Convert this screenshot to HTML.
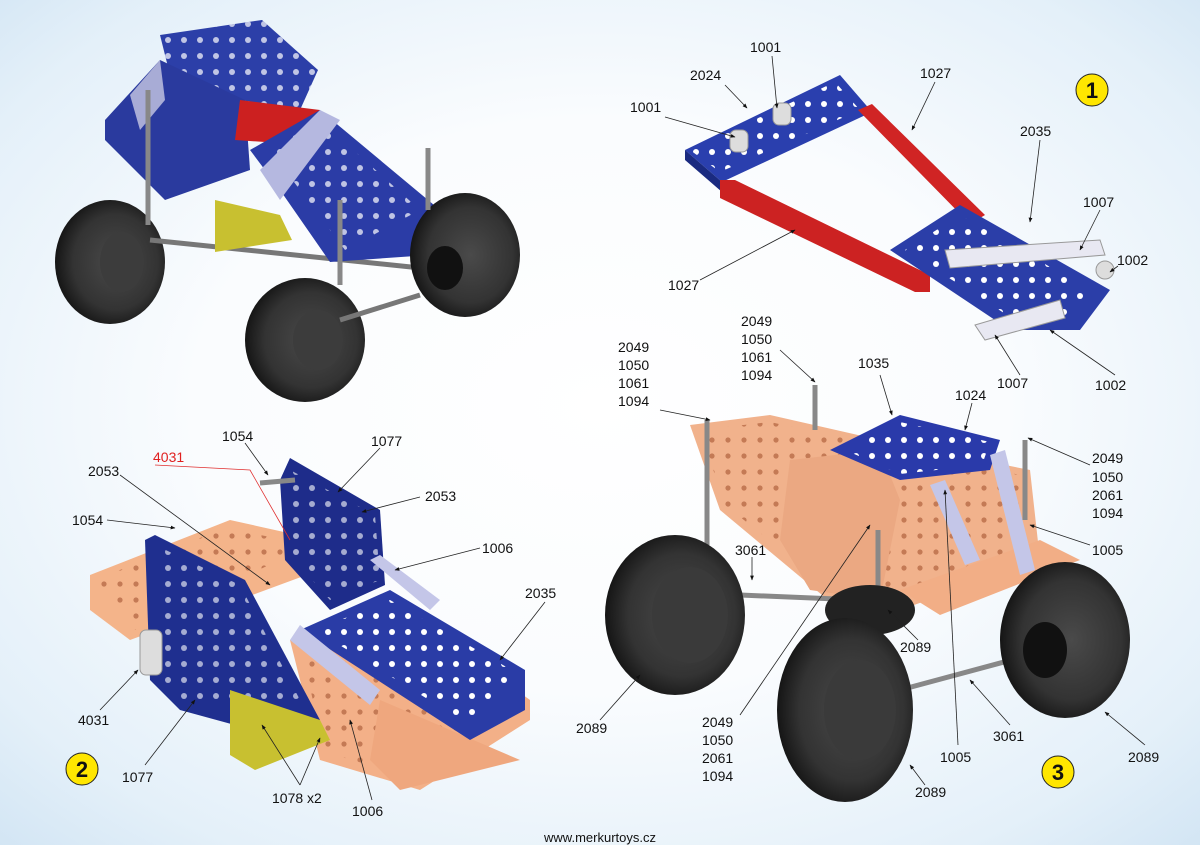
<!DOCTYPE html>
<html><head><meta charset="utf-8"><style>
html,body{margin:0;padding:0;width:1200px;height:845px;overflow:hidden;background:#fff}
svg text{font-family:"Liberation Sans",sans-serif;font-size:14px;fill:#111}
</style></head><body>
<svg width="1200" height="845" viewBox="0 0 1200 845" xmlns="http://www.w3.org/2000/svg">
<defs>
<radialGradient id="bg" cx="50%" cy="48%" r="75%">
<stop offset="0" stop-color="#ffffff"/><stop offset="0.45" stop-color="#fafcfe"/><stop offset="0.8" stop-color="#e4f0f9"/><stop offset="1" stop-color="#cfe3f3"/>
</radialGradient>
<radialGradient id="wh" cx="55%" cy="50%" r="55%">
<stop offset="0" stop-color="#4a4a4a"/><stop offset="0.7" stop-color="#333"/><stop offset="1" stop-color="#151515"/>
</radialGradient>
<pattern id="hb" width="16" height="16" patternUnits="userSpaceOnUse"><circle cx="8" cy="8" r="3" fill="#fff"/></pattern>
<pattern id="ho" width="16" height="16" patternUnits="userSpaceOnUse"><circle cx="8" cy="8" r="2.6" fill="#c47a55"/></pattern>
<marker id="a" viewBox="0 0 10 10" refX="9" refY="5" markerWidth="6" markerHeight="6" orient="auto"><path d="M0,1 L10,5 L0,9 z" fill="#111"/></marker>
</defs>
<rect width="1200" height="845" fill="url(#bg)"/>

<!-- ===== Top-left model ===== -->
<g>
<ellipse cx="110" cy="262" rx="55" ry="62" fill="url(#wh)"/>
<ellipse cx="122" cy="262" rx="22" ry="30" fill="#3c3c3c"/>
<line x1="150" y1="240" x2="440" y2="270" stroke="#777" stroke-width="5"/>
<polygon points="160,35 262,20 318,70 300,110 240,100 170,75" fill="#2c3fa8"/>
<polygon points="160,35 262,20 318,70 300,110 240,100 170,75" fill="url(#hb)" opacity="0.7"/>
<polygon points="105,120 160,60 245,100 250,170 165,200 105,140" fill="#2a3a9e"/>
<polygon points="240,100 320,110 310,145 235,140" fill="#cc2020"/>
<polygon points="250,150 320,110 440,210 430,255 330,262 280,190" fill="#2b3ca6"/>
<polygon points="270,150 320,120 420,210 345,250" fill="url(#hb)" opacity="0.7"/>
<polygon points="130,95 160,60 165,100 140,130" fill="#a8acd6"/>
<polygon points="260,170 320,110 340,120 280,200" fill="#b5b8e0"/>
<polygon points="215,200 280,215 292,240 215,252" fill="#c8c030"/>
<ellipse cx="305" cy="340" rx="60" ry="62" fill="url(#wh)"/>
<ellipse cx="318" cy="340" rx="25" ry="30" fill="#3c3c3c"/>
<ellipse cx="465" cy="255" rx="55" ry="62" fill="url(#wh)"/>
<ellipse cx="445" cy="268" rx="18" ry="22" fill="#111"/>
<line x1="340" y1="320" x2="420" y2="295" stroke="#777" stroke-width="5"/>
<line x1="148" y1="90" x2="148" y2="225" stroke="#888" stroke-width="5"/>
<line x1="340" y1="200" x2="340" y2="285" stroke="#888" stroke-width="5"/>
<line x1="428" y1="148" x2="428" y2="210" stroke="#888" stroke-width="5"/>
</g>

<!-- ===== Top-right assembly 1 ===== -->
<g>
<polygon points="685,150 840,75 872,112 722,182" fill="#2a3fae"/>
<polygon points="690,150 835,82 860,110 720,172" fill="url(#hb)"/>
<polygon points="685,150 722,182 722,192 685,160" fill="#1a2a80"/>
<polygon points="720,180 735,180 930,275 930,292 915,292 720,198" fill="#cc2222"/>
<polygon points="858,110 872,104 985,215 970,224" fill="#d02424"/>
<polygon points="890,250 960,205 1110,290 1080,330 1010,330" fill="#2b3ea8"/>
<polygon points="905,250 960,215 1090,290 1070,318 1015,320" fill="url(#hb)"/>
<polygon points="945,250 1100,240 1105,255 950,268" fill="#e8e8f2" stroke="#999" stroke-width="1"/>
<polygon points="975,325 1060,300 1065,318 985,340" fill="#e8e8f2" stroke="#999" stroke-width="1"/>
<circle cx="1105" cy="270" r="9" fill="#ddd" stroke="#999"/>
<rect x="730" y="130" width="18" height="22" rx="6" fill="#ddd" stroke="#999"/>
<rect x="773" y="103" width="18" height="22" rx="6" fill="#ddd" stroke="#999"/>
</g>

<!-- ===== Bottom-left assembly 2 ===== -->
<g>
<polygon points="90,575 230,520 320,540 320,570 130,640 90,610" fill="#f4b48a"/>
<polygon points="95,580 225,528 310,545 135,630" fill="url(#ho)"/>
<polygon points="290,640 420,620 530,700 530,720 420,790 320,760" fill="#f3b088"/>
<polygon points="300,645 420,628 520,700 420,780 325,752" fill="url(#ho)"/>
<polygon points="380,700 520,760 400,790 370,760" fill="#efa77e"/>
<polygon points="280,480 290,458 380,510 385,585 330,610 285,560" fill="#1e2c8a"/>
<polygon points="290,470 375,515 380,580 330,600 290,555" fill="url(#hb)" opacity="0.6"/>
<polygon points="145,540 155,535 245,580 320,720 290,740 180,710 150,680" fill="#1f2f8f"/>
<polygon points="155,545 240,585 300,700 180,700 155,670" fill="url(#hb)" opacity="0.6"/>
<polygon points="300,630 390,590 525,670 525,710 470,740" fill="#2a3ca6"/>
<polygon points="315,630 390,600 515,672 470,725" fill="url(#hb)"/>
<polygon points="290,640 300,625 380,690 370,705" fill="#c4c6e8"/>
<polygon points="370,560 380,555 440,600 430,610" fill="#c4c6e8"/>
<polygon points="230,690 320,720 330,740 255,770 230,755" fill="#c8c030"/>
<rect x="140" y="630" width="22" height="45" rx="6" fill="#ddd" stroke="#999"/>
<line x1="260" y1="483" x2="295" y2="480" stroke="#888" stroke-width="5"/>
</g>

<!-- ===== Bottom-right assembly 3 ===== -->
<g>
<polygon points="690,425 770,415 880,440 1030,470 1040,560 900,610 840,610 720,510" fill="#f1b28c"/>
<polygon points="700,430 770,422 880,446 1020,475 1030,555 900,600 845,600 725,505" fill="url(#ho)"/>
<polygon points="790,460 880,450 900,500 880,600 810,590 780,540" fill="#eba882"/>
<polygon points="900,590 1040,540 1080,560 940,615" fill="#f2ae86"/>
<polygon points="830,450 900,415 1000,440 990,470 900,480" fill="#2a3aaa"/>
<polygon points="845,450 900,422 990,442 982,465 900,474" fill="url(#hb)"/>
<polygon points="930,485 945,480 980,560 965,565" fill="#c4c6e8"/>
<polygon points="990,455 1005,450 1035,570 1020,575" fill="#c4c6e8"/>
<line x1="707" y1="420" x2="707" y2="545" stroke="#888" stroke-width="5"/>
<line x1="815" y1="385" x2="815" y2="430" stroke="#888" stroke-width="5"/>
<line x1="878" y1="530" x2="878" y2="650" stroke="#888" stroke-width="5"/>
<line x1="1025" y1="440" x2="1025" y2="520" stroke="#888" stroke-width="5"/>
<line x1="740" y1="595" x2="860" y2="600" stroke="#888" stroke-width="5"/>
<ellipse cx="870" cy="610" rx="45" ry="25" fill="#222"/>
<line x1="900" y1="690" x2="1030" y2="655" stroke="#888" stroke-width="5"/>
<ellipse cx="675" cy="615" rx="70" ry="80" fill="url(#wh)"/>
<ellipse cx="690" cy="615" rx="38" ry="48" fill="#3a3a3a"/>
<ellipse cx="845" cy="710" rx="68" ry="92" fill="url(#wh)"/>
<ellipse cx="860" cy="710" rx="36" ry="50" fill="#3a3a3a"/>
<ellipse cx="1065" cy="640" rx="65" ry="78" fill="url(#wh)"/>
<ellipse cx="1045" cy="650" rx="22" ry="28" fill="#111"/>
</g>

<!-- ===== Labels & leaders ===== -->
<g stroke="#222" stroke-width="0.8" fill="none">
<line x1="665" y1="117" x2="735" y2="137" marker-end="url(#a)"/>
<line x1="725" y1="85" x2="747" y2="108" marker-end="url(#a)"/>
<line x1="772" y1="56" x2="777" y2="108" marker-end="url(#a)"/>
<line x1="935" y1="82" x2="912" y2="130" marker-end="url(#a)"/>
<line x1="1040" y1="140" x2="1030" y2="222" marker-end="url(#a)"/>
<line x1="1100" y1="210" x2="1080" y2="250" marker-end="url(#a)"/>
<line x1="1118" y1="266" x2="1110" y2="272" marker-end="url(#a)"/>
<line x1="1115" y1="375" x2="1050" y2="330" marker-end="url(#a)"/>
<line x1="1020" y1="375" x2="995" y2="335" marker-end="url(#a)"/>
<line x1="700" y1="280" x2="795" y2="230" marker-end="url(#a)"/>
<line x1="660" y1="410" x2="710" y2="420" marker-end="url(#a)"/>
<line x1="780" y1="350" x2="815" y2="382" marker-end="url(#a)"/>
<line x1="880" y1="375" x2="892" y2="415" marker-end="url(#a)"/>
<line x1="972" y1="403" x2="965" y2="430" marker-end="url(#a)"/>
<line x1="1090" y1="465" x2="1028" y2="438" marker-end="url(#a)"/>
<line x1="1090" y1="545" x2="1030" y2="525" marker-end="url(#a)"/>
<line x1="752" y1="557" x2="752" y2="580" marker-end="url(#a)"/>
<line x1="918" y1="640" x2="888" y2="610" marker-end="url(#a)"/>
<line x1="600" y1="720" x2="640" y2="675" marker-end="url(#a)"/>
<line x1="740" y1="715" x2="870" y2="525" marker-end="url(#a)"/>
<line x1="958" y1="745" x2="945" y2="490" marker-end="url(#a)"/>
<line x1="1010" y1="725" x2="970" y2="680" marker-end="url(#a)"/>
<line x1="1145" y1="745" x2="1105" y2="712" marker-end="url(#a)"/>
<line x1="925" y1="785" x2="910" y2="765" marker-end="url(#a)"/>
<line x1="245" y1="443" x2="268" y2="475" marker-end="url(#a)"/>
<line x1="380" y1="448" x2="338" y2="492" marker-end="url(#a)"/>
<line x1="120" y1="475" x2="270" y2="585" marker-end="url(#a)"/>
<line x1="420" y1="497" x2="362" y2="512" marker-end="url(#a)"/>
<line x1="107" y1="520" x2="175" y2="528" marker-end="url(#a)"/>
<line x1="480" y1="548" x2="395" y2="570" marker-end="url(#a)"/>
<line x1="545" y1="602" x2="500" y2="660" marker-end="url(#a)"/>
<line x1="100" y1="710" x2="138" y2="670" marker-end="url(#a)"/>
<line x1="145" y1="765" x2="195" y2="700" marker-end="url(#a)"/>
<line x1="300" y1="785" x2="262" y2="725" marker-end="url(#a)"/>
<line x1="300" y1="785" x2="320" y2="738" marker-end="url(#a)"/>
<line x1="372" y1="800" x2="350" y2="720" marker-end="url(#a)"/>
</g>
<polyline points="155,465 250,470 290,540" fill="none" stroke="#e03030" stroke-width="0.8"/>

<text x="630" y="112">1001</text>
<text x="690" y="80">2024</text>
<text x="750" y="52">1001</text>
<text x="920" y="78">1027</text>
<text x="1020" y="136">2035</text>
<text x="1083" y="207">1007</text>
<text x="1117" y="265">1002</text>
<text x="668" y="290">1027</text>
<text x="997" y="388">1007</text>
<text x="1095" y="390">1002</text>

<text x="741" y="326">2049</text><text x="741" y="344">1050</text><text x="741" y="362">1061</text><text x="741" y="380">1094</text>
<text x="618" y="352">2049</text><text x="618" y="370">1050</text><text x="618" y="388">1061</text><text x="618" y="406">1094</text>
<text x="858" y="368">1035</text>
<text x="955" y="400">1024</text>
<text x="1092" y="463">2049</text><text x="1092" y="482">1050</text><text x="1092" y="500">2061</text><text x="1092" y="518">1094</text>
<text x="1092" y="555">1005</text>
<text x="735" y="555">3061</text>
<text x="900" y="652">2089</text>
<text x="576" y="733">2089</text>
<text x="702" y="727">2049</text><text x="702" y="745">1050</text><text x="702" y="763">2061</text><text x="702" y="781">1094</text>
<text x="940" y="762">1005</text>
<text x="993" y="741">3061</text>
<text x="1128" y="762">2089</text>
<text x="915" y="797">2089</text>

<text x="222" y="441">1054</text>
<text x="371" y="446">1077</text>
<text x="153" y="462" style="fill:#e02020">4031</text>
<text x="88" y="476">2053</text>
<text x="425" y="501">2053</text>
<text x="72" y="525">1054</text>
<text x="482" y="553">1006</text>
<text x="525" y="598">2035</text>
<text x="78" y="725">4031</text>
<text x="122" y="782">1077</text>
<text x="272" y="803">1078 x2</text>
<text x="352" y="816">1006</text>

<circle cx="1092" cy="90" r="16" fill="#ffe600" stroke="#222" stroke-width="1"/>
<text x="1092" y="98" text-anchor="middle" style="font-size:22px;font-weight:bold">1</text>
<circle cx="82" cy="769" r="16" fill="#ffe600" stroke="#222" stroke-width="1"/>
<text x="82" y="777" text-anchor="middle" style="font-size:22px;font-weight:bold">2</text>
<circle cx="1058" cy="772" r="16" fill="#ffe600" stroke="#222" stroke-width="1"/>
<text x="1058" y="780" text-anchor="middle" style="font-size:22px;font-weight:bold">3</text>

<text x="600" y="842" text-anchor="middle" style="font-size:13px">www.merkurtoys.cz</text>
</svg>
</body></html>
